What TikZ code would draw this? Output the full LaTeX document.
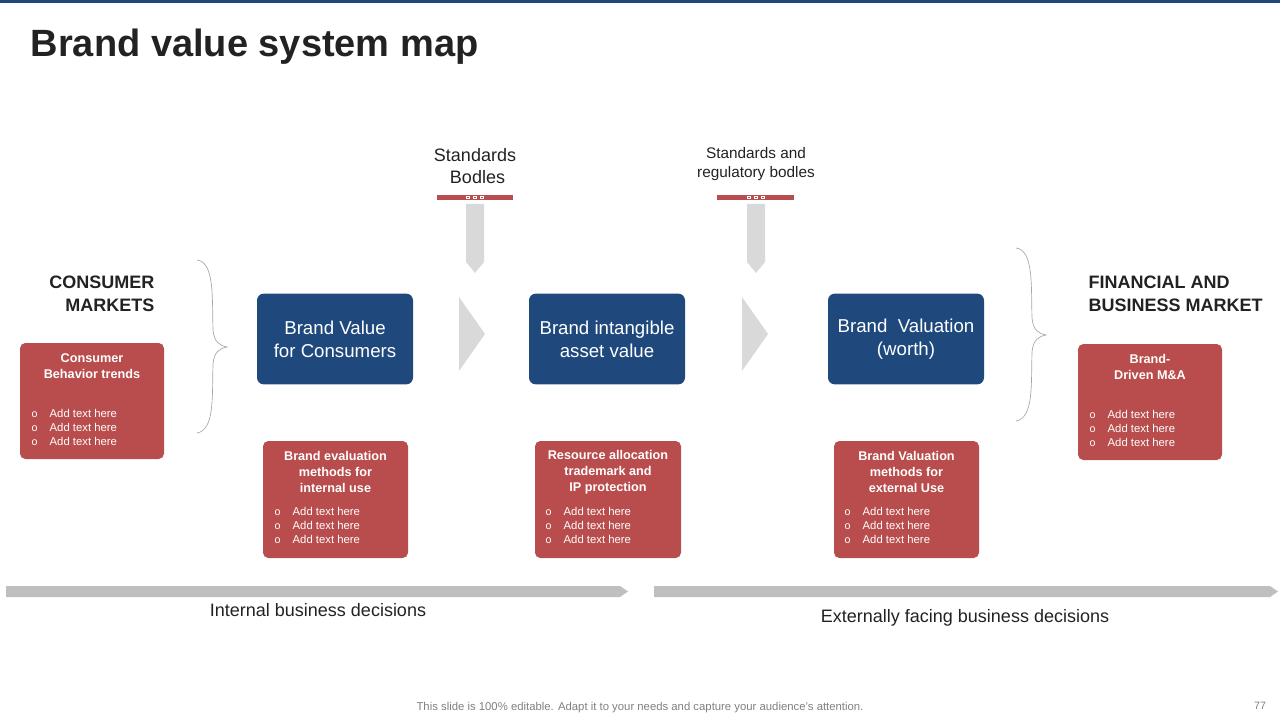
\documentclass[tikz,border=0pt]{standalone}
\usepackage{fontspec}
\setmainfont{Liberation Sans}
\definecolor{navy}{HTML}{1F497D}
\definecolor{brick}{HTML}{B94C4C}
\definecolor{lgray}{HTML}{D9D9D9}
\definecolor{mgray}{HTML}{BFBFBF}
\definecolor{ink}{HTML}{222222}
\begin{document}
\begin{tikzpicture}[x=0.75pt,y=-0.75pt,
  bluebox/.style={fill=navy,rounded corners=5pt,text=white,align=center,font=\fontsize{14}{17}\selectfont,inner sep=0pt},
  redbox/.style={fill=brick,rounded corners=4pt},
  redtitle/.style={text=white,align=center,font=\bfseries\fontsize{9.5}{12}\selectfont},
  items/.style={text=white,align=left,font=\fontsize{8.5}{10.5}\selectfont,anchor=north west},
  brace/.style={draw=gray!70,line width=0.5pt}]
\useasboundingbox (0,0) rectangle (1280,720);
\fill[navy] (0,0) rectangle (1280,3);
\node[anchor=west,font=\bfseries\fontsize{28.5}{31}\selectfont,text=ink] (title) at (26,47) {Brand value system map};

% blue boxes
\node[bluebox,minimum width=117pt,minimum height=68pt] (b1) at (335,339) {Brand Value\\for Consumers};
\node[bluebox,minimum width=117pt,minimum height=68pt] (b2) at (607,339) {Brand intangible\\asset value};
\node[bluebox,minimum width=117pt,minimum height=68pt] (b3) at (906,339) {Brand\ \ Valuation\\(worth)};

% chevrons
\fill[lgray] (459,297) -- (485,334) -- (459,371) -- cycle;
\fill[lgray] (742,297) -- (768,334) -- (742,371) -- cycle;

% standards
\node[font=\fontsize{13.5}{17}\selectfont,align=center,text=ink] (s1) at (475,166) {Standards\\\ Bodles};
\node[font=\fontsize{11.5}{14.5}\selectfont,align=center,text=ink] (s2) at (756,164) {Standards and\\regulatory\ bodles};
\fill[brick] (437,195) rectangle (513,200);
\fill[brick] (717,195) rectangle (794,200);
\foreach \cx in {475,756}{
  \foreach \dx in {-7,0,7}{\draw[white,line width=0.4pt] (\cx+\dx-1.5,196.5) rectangle (\cx+\dx+1.5,198.5);}
  \fill[lgray] (\cx-9,204) -- (\cx+9,204) -- (\cx+9,262) -- (\cx,273) -- (\cx-9,262) -- cycle;
}

% markets
\node[font=\bfseries\fontsize{13.5}{17}\selectfont,align=right,anchor=east,text=ink] (cm) at (159,294) {CONSUMER\\MARKETS};
\node[font=\bfseries\fontsize{13.5}{17}\selectfont,align=left,anchor=west,text=ink] (fm) at (1084,294) {FINANCIAL AND\\BUSINESS MARKET};

% braces
\draw[brace] (197,260) .. controls (215,262) and (212,300) .. (213,330) .. controls (214,342) and (220,346) .. (227,347)
  .. controls (220,348) and (214,352) .. (213,364) .. controls (212,395) and (215,430) .. (197,433);
\draw[brace] (1016,248) .. controls (1034,250) and (1031,288) .. (1032,318) .. controls (1033,330) and (1039,334) .. (1046,335)
  .. controls (1039,336) and (1033,340) .. (1032,352) .. controls (1031,383) and (1034,418) .. (1016,421);

% red boxes
\newcommand{\addlist}{{\fontsize{8}{10.5}\selectfont o}\hspace{9pt}Add text here\\{\fontsize{8}{10.5}\selectfont o}\hspace{9pt}Add text here\\{\fontsize{8}{10.5}\selectfont o}\hspace{9pt}Add text here}
\fill[redbox] (20,343) rectangle (164,459);
\node[redtitle] (r1t) at (92,366) {Consumer\\Behavior trends};
\node[items] (r1l) at (27,405) {\addlist};
\fill[redbox] (1078,344) rectangle (1222,460);
\node[redtitle] (r5t) at (1150,367) {Brand-\\Driven M\&A};
\node[items] (r5l) at (1085,406) {\addlist};

\fill[redbox] (263,441) rectangle (408,558);
\node[redtitle] (r2t) at (335.5,472) {Brand evaluation\\methods for\\internal use};
\node[items] (r2l) at (270,503) {\addlist};
\fill[redbox] (535,441) rectangle (681,558);
\node[redtitle] (r3t) at (608,472) {Resource allocation\\trademark and\\IP protection};
\node[items] (r3l) at (541,503) {\addlist};
\fill[redbox] (834,441) rectangle (979,558);
\node[redtitle] (r4t) at (906.5,472) {Brand Valuation\\methods for\\external Use};
\node[items] (r4l) at (840,503) {\addlist};

% bottom arrows
\fill[mgray] (6,586) -- (620,586) -- (628,591.5) -- (620,597) -- (6,597) -- cycle;
\fill[mgray] (654,586) -- (1270,586) -- (1278,591.5) -- (1270,597) -- (654,597) -- cycle;
\node[font=\fontsize{13.5}{16}\selectfont,text=ink] (ib) at (318,610) {Internal business decisions};
\node[font=\fontsize{13.5}{16}\selectfont,text=ink] (eb) at (965,618) {Externally\ facing business decisions};

\node[font=\fontsize{8.5}{10}\selectfont,text=gray] (foot) at (640,708) {This slide is 100\% editable. Adapt it to your needs and capture your audience's attention.};
\node[font=\fontsize{8}{10}\selectfont,text=gray] (pg) at (1260,706) {77};
\end{tikzpicture}
\end{document}
